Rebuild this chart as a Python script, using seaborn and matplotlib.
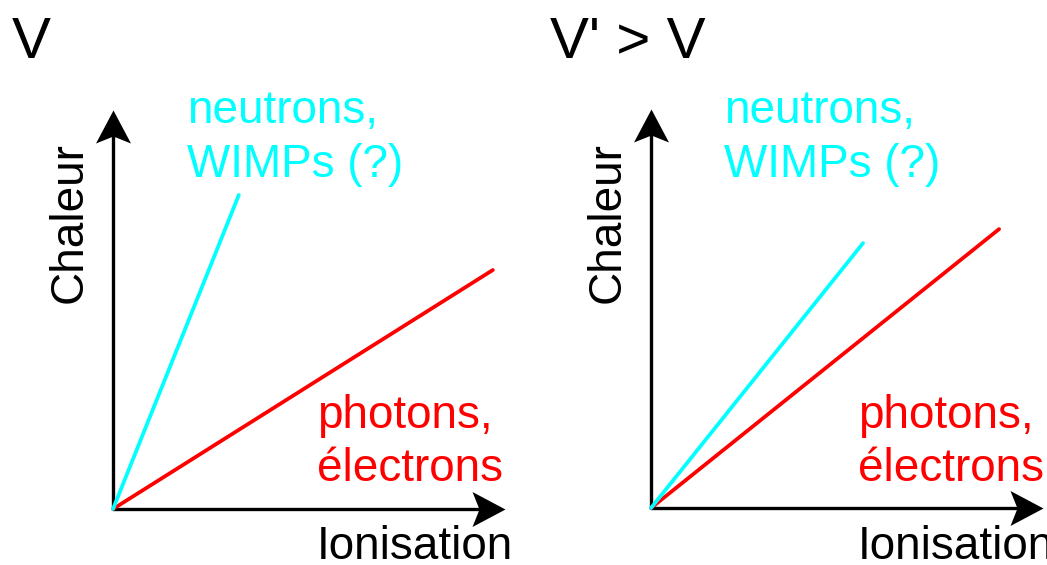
"""Schematic: chaleur vs ionisation for two bias voltages (V and V' > V)."""

import pandas as pd
import matplotlib.pyplot as plt
from matplotlib.path import Path
import seaborn as sns

W, H = 1047, 565

# ---- data (arbitrary units, axes run 0..100) ----
PANELS = ["V", "V' > V"]
PARTICLES = ["neutrons", "photons"]
ION_END = {"V": [32.1, 96.9], "V' > V": [54.1, 88.8]}     # ionisation at line end
HEAT_END = {"V": [78.7, 59.9], "V' > V": [66.4, 69.9]}    # chaleur at line end
COLORS = {"neutrons": "#00ffff", "photons": "#ff0000"}
LABELS = {"neutrons": ["neutrons,", "WIMPs (?)"],
          "photons": ["photons,", "électrons"]}
XLABEL = "Ionisation"
YLABEL = "Chaleur"

# ---- layout (pixels in the 1047x565 image) ----
ORIGIN_PX = {"V": (113, 509), "V' > V": (651, 508)}
AX_W, AX_H = 392, 399
TITLE_X = {"V": 12, "V' > V": 550}
NEUTRON_X = {"V": 187, "V' > V": 724}
PHOTON_X = {"V": 317, "V' > V": 858}
YLABEL_X = {"V": 82, "V' > V": 620}

sns.set_theme(style="white")
plt.rcParams["font.family"] = ["Liberation Sans", "DejaVu Sans"]
plt.rcParams["text.color"] = "black"

# stealth-style arrowheads, tip at (0, 0)
UP_HEAD = Path([(0, 0), (-17.5, -33), (0, -26), (17.5, -33), (0, 0)],
               [Path.MOVETO, Path.LINETO, Path.LINETO, Path.LINETO, Path.CLOSEPOLY])
RIGHT_HEAD = Path([(0, 0), (-33, 17.5), (-26, 0), (-33, -17.5), (0, 0)],
                  [Path.MOVETO, Path.LINETO, Path.LINETO, Path.LINETO, Path.CLOSEPOLY])
HEAD_MS = 2 * 33 * 0.72


def put(x, y, s, **kw):
    return fig.text(x / W, 1 - y / H, s, **kw)


fig = plt.figure(figsize=(W / 100, H / 100), dpi=100)

for panel in PANELS:
    ox, oy = ORIGIN_PX[panel]
    ax = fig.add_axes([ox / W, (H - oy) / H, AX_W / W, AX_H / H])
    ax.set_xlim(0, 100)
    ax.set_ylim(0, 100)
    ax.axis("off")

    # axes with arrowheads
    ax.plot([0, 0], [0, 95], color="black", lw=2.4, clip_on=False, zorder=1)
    ax.plot([0, 95], [0, 0], color="black", lw=2.4, clip_on=False, zorder=1)
    ax.plot([0], [100], marker=UP_HEAD, ms=HEAD_MS, color="black",
            mew=0, clip_on=False, zorder=1)
    ax.plot([100], [0], marker=RIGHT_HEAD, ms=HEAD_MS, color="black",
            mew=0, clip_on=False, zorder=1)

    rows = []
    for i, p in enumerate(PARTICLES):
        rows.append({"particle": p, "ionisation": 0.0, "chaleur": 0.0})
        rows.append({"particle": p, "ionisation": ION_END[panel][i],
                     "chaleur": HEAT_END[panel][i]})
    df = pd.DataFrame(rows)
    sns.lineplot(data=df, x="ionisation", y="chaleur", hue="particle",
                 hue_order=PARTICLES[::-1], palette=COLORS, legend=False,
                 lw=2.7, sort=False, clip_on=False, ax=ax, zorder=2)

    # texts
    put(TITLE_X[panel], 58, panel, fontsize=42, ha="left", va="baseline")
    for j, line in enumerate(LABELS["neutrons"]):
        put(NEUTRON_X[panel], 123 + 54 * j, line, fontsize=33,
            color=COLORS["neutrons"], ha="left", va="baseline")
    for j, line in enumerate(LABELS["photons"]):
        put(PHOTON_X[panel], 428 + 53 * j, line, fontsize=33,
            color=COLORS["photons"], ha="left", va="baseline")
    put(PHOTON_X[panel], 559, XLABEL, fontsize=33, ha="left", va="baseline")
    put(YLABEL_X[panel], 223, YLABEL, fontsize=33, rotation=90,
        rotation_mode="anchor", ha="center", va="baseline")

fig.savefig("out.png", dpi=100, facecolor="white")
